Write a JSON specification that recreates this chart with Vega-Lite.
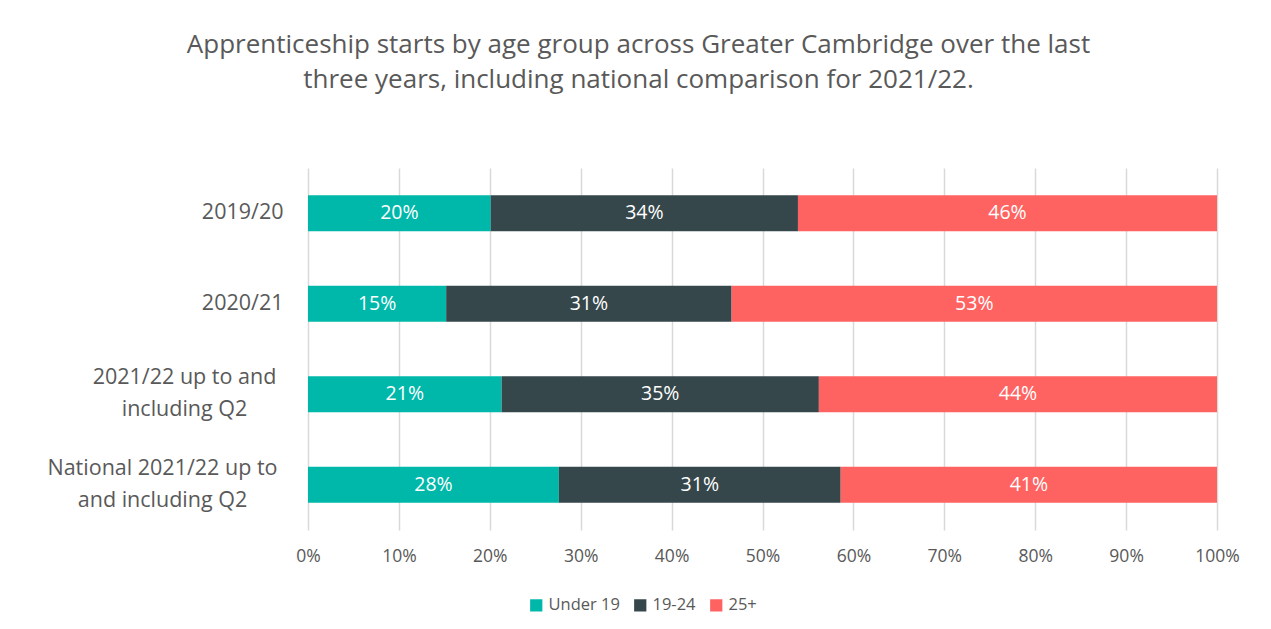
{
  "$schema": "https://vega.github.io/schema/vega-lite/v6.json",
  "width": 909,
  "height": 362,
  "autosize": {"type": "none"},
  "padding": {"left": 308, "top": 168, "right": 54, "bottom": 99},
  "background": "white",
  "title": {
    "text": ["Apprenticeship starts by age group across Greater Cambridge over the last", "three years, including national comparison for 2021/22."],
    "font": "Open Sans",
    "fontSize": 26,
    "fontWeight": "normal",
    "color": "#595959",
    "anchor": "middle",
    "frame": "group",
    "dx": -124,
    "lineHeight": 35,
    "offset": 75
  },
  "data": {
    "values": [
      {"cat": "2019/20", "group": "Under 19", "ord": 1, "value": 0.201},
      {"cat": "2019/20", "group": "19-24", "ord": 2, "value": 0.338},
      {"cat": "2019/20", "group": "25+", "ord": 3, "value": 0.461},
      {"cat": "2020/21", "group": "Under 19", "ord": 1, "value": 0.152},
      {"cat": "2020/21", "group": "19-24", "ord": 2, "value": 0.314},
      {"cat": "2020/21", "group": "25+", "ord": 3, "value": 0.534},
      {"cat": "2021/22 up to and|including Q2", "group": "Under 19", "ord": 1, "value": 0.213},
      {"cat": "2021/22 up to and|including Q2", "group": "19-24", "ord": 2, "value": 0.349},
      {"cat": "2021/22 up to and|including Q2", "group": "25+", "ord": 3, "value": 0.438},
      {"cat": "National 2021/22 up to|and including Q2", "group": "Under 19", "ord": 1, "value": 0.276},
      {"cat": "National 2021/22 up to|and including Q2", "group": "19-24", "ord": 2, "value": 0.310},
      {"cat": "National 2021/22 up to|and including Q2", "group": "25+", "ord": 3, "value": 0.414}
    ]
  },
  "transform": [
    {"stack": "value", "groupby": ["cat"], "sort": [{"field": "ord"}], "as": ["v0", "v1"]},
    {"calculate": "(datum.v0 + datum.v1) / 2", "as": "mid"}
  ],
  "encoding": {
    "y": {
      "field": "cat",
      "type": "nominal",
      "sort": null,
      "title": null,
      "scale": {"paddingInner": 0.6, "paddingOuter": 0.3},
      "axis": {
        "domain": false,
        "ticks": false,
        "labelFont": "Open Sans",
        "labelFontSize": 21.5,
        "labelColor": "#595959",
        "labelBaseline": "middle",
        "labelLineHeight": 32,
        "labelLimit": 400,
        "labelAlign": {"condition": {"test": "indexof(datum.value, '|') >= 0", "value": "center"}, "value": "right"},
        "labelPadding": {"condition": [
          {"test": "indexof(datum.value, 'National') == 0", "value": 146},
          {"test": "indexof(datum.value, '|') >= 0", "value": 124}
        ], "value": 25},
        "labelOffset": {"condition": {"test": "indexof(datum.value, '|') >= 0", "value": -16}, "value": 0},
        "labelExpr": "split(datum.label, '|')"
      }
    }
  },
  "layer": [
    {
      "mark": {"type": "bar"},
      "encoding": {
        "x": {
          "field": "v0",
          "type": "quantitative",
          "scale": {"domain": [0, 1]},
          "title": null,
          "axis": {
            "format": ".0%",
            "values": [0, 0.1, 0.2, 0.3, 0.4, 0.5, 0.6, 0.7, 0.8, 0.9, 1],
            "domain": false,
            "ticks": false,
            "grid": true,
            "gridColor": "#d9d9d9",
            "gridWidth": 1.5,
            "labelFlush": false,
            "labelFont": "Open Sans",
            "labelFontSize": 17.5,
            "labelColor": "#595959",
            "labelPadding": 17
          }
        },
        "x2": {"field": "v1"},
        "color": {
          "field": "group",
          "type": "nominal",
          "scale": {"domain": ["Under 19", "19-24", "25+"], "range": ["#00b8a9", "#36474b", "#ff6361"]},
          "legend": {
            "title": null,
            "orient": "none",
            "direction": "horizontal",
            "legendX": 220,
            "legendY": 429,
            "symbolType": "square",
            "symbolSize": 150,
            "symbolStrokeWidth": 0,
            "labelFont": "Open Sans",
            "labelFontSize": 16.5,
            "labelColor": "#595959",
            "columnPadding": 12,
            "labelOffset": 4
          }
        }
      }
    },
    {
      "mark": {"type": "text", "color": "white", "font": "Open Sans", "fontSize": 19.5, "baseline": "middle", "align": "center"},
      "encoding": {
        "x": {"field": "mid", "type": "quantitative"},
        "text": {"field": "value", "type": "quantitative", "format": ".0%"}
      }
    }
  ],
  "config": {"view": {"stroke": null}}
}
